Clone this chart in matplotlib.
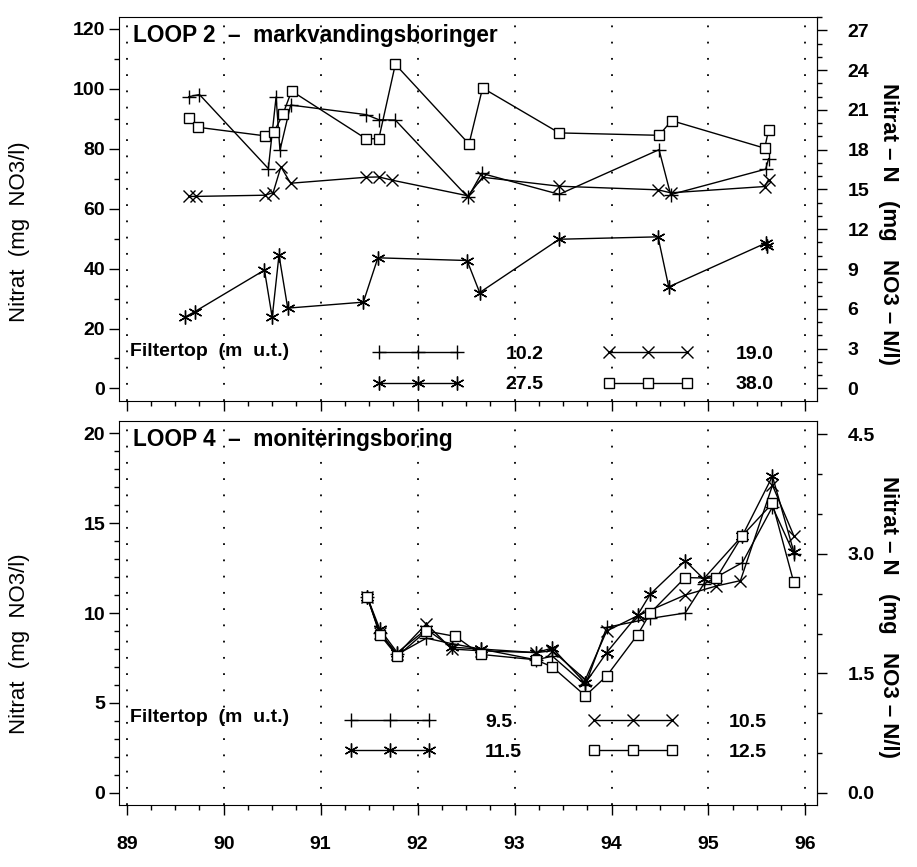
import matplotlib.pyplot as plt
from matplotlib.ticker import MultipleLocator, FixedLocator, FormatStrFormatter

plt.rcParams['font.family'] = ['Liberation Sans', 'DejaVu Sans']
plt.rcParams['font.size'] = 14
plt.rcParams['font.weight'] = 'bold'

# LOOP 2 - markvandingsboringer (year 19xx, mg NO3/l)
l2_102_x = [89.64, 89.75, 90.46, 90.54, 90.58, 90.69, 91.47, 91.60, 91.77, 92.52, 92.66, 93.46, 94.49, 94.61, 95.59, 95.62]
l2_102_y = [97.4, 98.1, 73.4, 97.3, 79.5, 94.6, 91.4, 89.7, 89.6, 63.8, 71.8, 64.8, 79.7, 64.7, 73.2, 76.7]
l2_190_x = [89.64, 89.71, 90.43, 90.51, 90.59, 90.69, 91.47, 91.60, 91.74, 92.52, 92.67, 93.46, 94.48, 94.61, 95.58, 95.62]
l2_190_y = [64.1, 64.1, 64.5, 65.4, 74.0, 68.5, 70.5, 70.6, 69.5, 64.3, 70.5, 67.5, 66.3, 65.3, 67.4, 69.7]
l2_275_x = [89.60, 89.70, 90.42, 90.50, 90.57, 90.66, 91.44, 91.59, 92.51, 92.64, 93.46, 94.48, 94.59, 95.59, 95.60]
l2_275_y = [23.8, 25.6, 39.5, 23.7, 44.5, 26.8, 28.8, 43.6, 42.7, 32.0, 49.8, 50.6, 33.9, 48.5, 47.4]
l2_380_x = [89.64, 89.73, 90.43, 90.52, 90.61, 90.70, 91.47, 91.60, 91.77, 92.53, 92.67, 93.46, 94.49, 94.62, 95.58, 95.62]
l2_380_y = [90.2, 87.2, 84.3, 85.7, 91.5, 99.3, 83.3, 83.4, 108.2, 81.6, 100.3, 85.3, 84.5, 89.4, 80.2, 86.3]
l2_labels = ['10.2', '19.0', '27.5', '38.0']
l2_n_ticks = [0, 3, 6, 9, 12, 15, 18, 21, 24, 27]

# LOOP 4 - moniteringsboring
l4_95_x = [91.48, 91.61, 91.79, 92.09, 92.35, 92.65, 93.22, 93.39, 93.73, 93.95, 94.40, 94.76, 94.95, 95.35, 95.66, 95.88]
l4_95_y = [10.9, 8.9, 7.7, 8.6, 8.3, 8.0, 7.4, 7.6, 6.0, 9.2, 9.7, 10.0, 11.6, 12.8, 15.9, 13.3]
l4_105_x = [91.48, 91.61, 91.79, 92.09, 92.35, 92.65, 93.22, 93.39, 93.73, 93.95, 94.27, 94.76, 95.08, 95.33, 95.66, 95.88]
l4_105_y = [10.9, 8.9, 7.7, 9.4, 8.0, 7.9, 7.8, 7.9, 6.3, 9.0, 9.85, 11.0, 11.5, 11.8, 17.1, 14.3]
l4_115_x = [91.48, 91.61, 91.79, 92.09, 92.35, 92.65, 93.22, 93.39, 93.73, 93.95, 94.27, 94.40, 94.76, 94.95, 95.35, 95.66, 95.88]
l4_115_y = [10.9, 9.1, 7.8, 9.1, 8.1, 8.0, 7.8, 8.05, 6.1, 7.8, 9.9, 11.05, 12.9, 11.9, 14.3, 17.6, 13.4]
l4_125_x = [91.48, 91.61, 91.79, 92.09, 92.39, 92.65, 93.22, 93.39, 93.73, 93.95, 94.27, 94.40, 94.76, 95.08, 95.35, 95.66, 95.88]
l4_125_y = [10.9, 8.8, 7.6, 9.0, 8.7, 7.7, 7.4, 7.0, 5.4, 6.5, 8.8, 10.0, 11.97, 11.93, 14.3, 16.1, 11.7]
l4_labels = ['9.5', '10.5', '11.5', '12.5']
l4_n_ticks = [0.0, 1.5, 3.0, 4.5]

years = [89, 90, 91, 92, 93, 94, 95, 96]

# mg NO3/l -> mg NO3-N/l
def to_n(v):
    return v * 14.0 / 62.0

def from_n(v):
    return v * 62.0 / 14.0

styles = [
    dict(marker='+', ms=10, mew=1.0),
    dict(marker='x', ms=8, mew=1.0),
    dict(marker=(6, 2, 0), ms=10, mew=1.0),
    dict(marker='s', ms=7, mew=1.0, mfc='white'),
]

fig = plt.figure(figsize=(9.17, 8.67), dpi=100)
ax1 = fig.add_axes([0.1298, 0.5375, 0.7612, 0.4429])
ax2 = fig.add_axes([0.1298, 0.0715, 0.7612, 0.4429])


def draw_panel(ax, series, labels, title, ylim, ymaj, ymin, nticks, nmin, nfmt,
               label_y, rlabel_y, leg_anchor, leg_row, textpad, colspace, show_x):
    for yr in years:
        ax.axvline(yr, color='black', lw=1.3, ls=(0, (1, 8)), zorder=1)
    handles = []
    for (xs, ys), st in zip(series, styles):
        h, = ax.plot(xs, ys, color='black', lw=1.0, zorder=3, **st)
        handles.append(h)
    ax.set_xlim(88.92, 96.12)
    ax.set_ylim(*ylim)
    ax.xaxis.set_major_locator(FixedLocator(years))
    ax.xaxis.set_minor_locator(MultipleLocator(0.25))
    ax.xaxis.set_major_formatter(FormatStrFormatter('%d'))
    ax.yaxis.set_major_locator(MultipleLocator(ymaj))
    ax.yaxis.set_minor_locator(MultipleLocator(ymin))
    ax.tick_params(which='major', direction='out', length=7, width=1.0, pad=3)
    ax.tick_params(which='minor', direction='out', length=3.5, width=1.0)
    ax.tick_params(axis='x', which='major', pad=15)
    if not show_x:
        ax.tick_params(axis='x', labelbottom=False)
    ax.set_ylabel('Nitrat  (mg  NO3/l)', fontsize=16)
    ax.yaxis.set_label_coords(-0.128, label_y)

    sec = ax.secondary_yaxis('right', functions=(to_n, from_n))
    sec.yaxis.set_major_locator(FixedLocator(nticks))
    sec.yaxis.set_minor_locator(MultipleLocator(nmin))
    sec.yaxis.set_major_formatter(FormatStrFormatter(nfmt))
    sec.tick_params(which='major', direction='out', length=7, width=1.0, pad=15)
    sec.tick_params(which='minor', direction='out', length=3.5, width=1.0)
    ax.text(1.103, rlabel_y, 'Nitrat – N   (mg   NO3 – N/l)', rotation=-90,
            transform=ax.transAxes, ha='center', va='center', fontsize=16)

    ax.text(0.02, 0.982, title, transform=ax.transAxes, va='top', ha='left', fontsize=16.3)
    ax.text(0.016, leg_row, 'Filtertop  (m  u.t.)', transform=ax.transAxes,
            va='center', ha='left', fontsize=14)
    order = [0, 2, 1, 3]
    ax.legend([handles[i] for i in order], [labels[i] for i in order], ncol=2,
              loc='lower left', bbox_to_anchor=leg_anchor, frameon=False,
              numpoints=3, handlelength=4.6, handletextpad=textpad,
              columnspacing=colspace, labelspacing=0.65, borderpad=0,
              borderaxespad=0, fontsize=14)


draw_panel(ax1,
           [(l2_102_x, l2_102_y), (l2_190_x, l2_190_y), (l2_275_x, l2_275_y), (l2_380_x, l2_380_y)],
           l2_labels, 'LOOP 2  –  markvandingsboringer', (-4.2, 124), 20, 10, l2_n_ticks, 1, '%d',
           0.44, 0.46, (0.364, 0.02), 0.128, 2.2, 3.1, False)
draw_panel(ax2,
           [(l4_95_x, l4_95_y), (l4_105_x, l4_105_y), (l4_115_x, l4_115_y), (l4_125_x, l4_125_y)],
           l4_labels, 'LOOP 4  –  moniteringsboring', (-0.67, 20.67), 5, 1, l4_n_ticks, 0.5, '%.1f',
           0.42, 0.49, (0.324, 0.115), 0.227, 2.6, 3.4, True)

fig.savefig('out.png', dpi=100)
